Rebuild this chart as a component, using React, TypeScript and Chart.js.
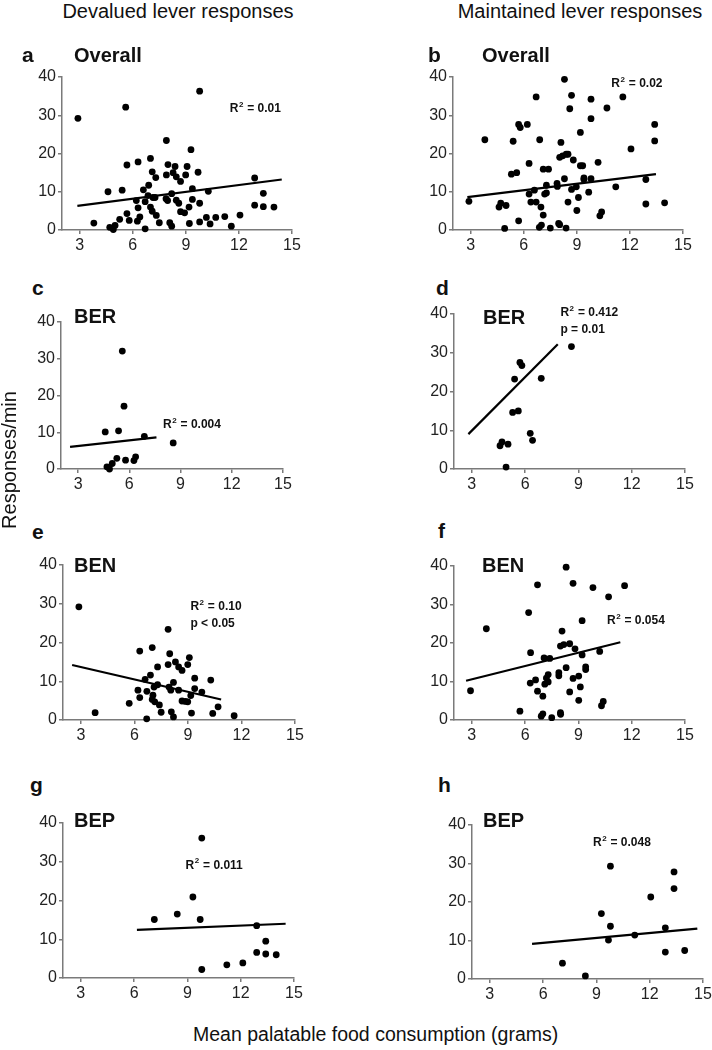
import React, { useEffect, useRef } from 'react';
import { Chart, registerables } from 'chart.js';

Chart.register(...registerables);

// ---------- DATA ----------
const xTickValues = [3, 6, 9, 12, 15];
const yTickValues = [0, 10, 20, 30, 40];

// a: Devalued, Overall
const aX = [2.9, 5.6, 9.78, 3.8, 4.6, 4.7, 4.9, 5.0, 5.26, 5.4, 5.67, 5.67, 5.8, 6.3, 6.2, 6.3, 6.4, 6.26, 6.6, 6.7, 6.7, 7.0, 6.9, 6.86, 7.1, 7.3, 7.14, 7.0, 7.1, 7.33, 7.5, 7.26, 7.9, 7.99, 7.9, 7.88, 7.97, 8.09, 8.2, 8.2, 8.39, 8.28, 8.46, 8.7, 8.46, 8.6, 8.7, 8.93, 9.07, 8.99, 9.29, 9.37, 9.37, 9.18, 9.2, 9.69, 9.78, 9.78, 10.27, 10.16, 10.37, 10.69, 11.2, 11.57, 12.06, 12.89, 12.89, 13.38, 13.38, 13.98];
const aY = [29.2, 32.1, 36.3, 1.8, 10.0, 0.7, 0.1, 1.2, 2.8, 10.4, 17.0, 4.3, 2.5, 17.8, 7.7, 5.8, 3.4, 2.3, 10.5, 7.4, 0.3, 18.7, 11.7, 9.0, 15.2, 13.7, 8.5, 6.0, 4.9, 3.8, 1.9, 8.5, 23.4, 17.1, 14.4, 8.2, 7.7, 1.9, 1.0, 9.5, 16.6, 15.0, 13.9, 12.7, 7.8, 7.0, 4.8, 4.5, 16.6, 14.4, 21.0, 10.8, 8.0, 6.0, 1.7, 15.1, 7.0, 2.1, 10.1, 3.3, 1.6, 3.3, 3.5, 1.0, 3.9, 13.6, 6.5, 9.6, 6.1, 6.0];
const aFitX = [2.87, 14.42];
const aFitY = [6.3, 13.2];

// b: Maintained, Overall
const bX = [2.9, 3.8, 4.6, 4.7, 5.0, 4.92, 5.3, 5.4, 5.6, 5.71, 5.71, 5.8, 6.2, 6.3, 6.3, 6.4, 6.6, 6.7, 6.7, 6.9, 6.97, 6.88, 7.0, 7.1, 7.1, 7.18, 7.28, 7.28, 7.4, 7.5, 7.88, 7.9, 7.97, 8.03, 8.03, 8.1, 8.2, 8.3, 8.4, 8.5, 8.39, 8.3, 8.5, 8.6, 8.7, 8.7, 8.8, 8.97, 9.09, 9.0, 9.2, 9.2, 9.33, 9.4, 9.4, 9.67, 9.8, 9.8, 9.8, 10.2, 10.3, 10.4, 10.7, 11.2, 11.6, 12.06, 12.9, 12.9, 13.4, 13.4, 13.96];
const bY = [7.5, 23.6, 6.0, 7.0, 6.4, 0.4, 14.6, 23.2, 15.0, 2.4, 27.6, 26.8, 27.6, 17.4, 9.4, 7.3, 10.4, 7.3, 34.8, 23.6, 6.0, 0.7, 1.3, 3.9, 15.9, 9.4, 11.7, 9.7, 15.9, 0.5, 12.2, 11.4, 1.7, 19.0, 1.4, 22.9, 19.4, 13.4, 19.8, 19.8, 0.5, 39.4, 7.3, 31.7, 10.6, 35.2, 18.3, 11.3, 8.5, 5.1, 25.5, 16.8, 16.8, 13.6, 13.2, 9.9, 13.4, 29.1, 34.2, 17.7, 3.7, 4.7, 31.9, 11.3, 34.8, 21.2, 13.2, 6.8, 27.6, 23.3, 7.1];
const bFitX = [2.81, 13.47];
const bFitY = [8.6, 14.6];

// c: Devalued, BER
const cX = [4.59, 4.69, 4.84, 5.0, 5.27, 5.37, 5.59, 5.69, 5.78, 6.27, 6.37, 6.88, 8.57];
const cY = [10.1, 0.6, 0.0, 1.5, 2.9, 10.4, 32.1, 17.1, 2.4, 2.3, 3.3, 8.9, 7.1];
const cFitX = [2.53, 7.59];
const cFitY = [6.0, 8.6];

// d: Maintained, BER
const dX = [4.59, 4.7, 5.04, 4.93, 5.3, 5.41, 5.62, 5.71, 5.82, 6.29, 6.42, 6.91, 8.61];
const dY = [6.0, 7.0, 6.4, 0.5, 14.6, 23.2, 15.0, 27.5, 26.7, 9.2, 7.4, 23.4, 31.6];
const dFitX = [2.81, 7.84];
const dFitY = [9.0, 32.2];

// e: Devalued, BEN
const eX = [2.89, 3.8, 5.71, 6.2, 6.3, 6.3, 6.6, 6.7, 6.69, 7.0, 6.9, 7.1, 7.04, 7.0, 7.14, 7.3, 7.3, 7.4, 7.5, 7.89, 7.98, 7.89, 7.94, 8.04, 8.07, 8.19, 8.19, 8.3, 8.48, 8.67, 8.48, 8.67, 8.86, 8.99, 8.99, 9.08, 9.16, 9.2, 9.38, 9.38, 9.78, 10.28, 10.39, 10.69, 11.59];
const eY = [29.2, 1.9, 4.3, 7.7, 5.8, 17.8, 10.5, 7.4, 0.3, 18.7, 11.6, 8.5, 6.4, 5.3, 4.7, 13.7, 9.1, 3.9, 2.0, 23.4, 17.1, 14.3, 8.5, 7.7, 2.1, 0.8, 9.7, 15.0, 13.7, 12.8, 7.7, 4.9, 4.8, 4.7, 14.3, 16.1, 6.3, 1.8, 10.8, 8.1, 7.2, 10.3, 1.7, 3.4, 1.1];
const eFitX = [2.51, 10.86];
const eFitY = [14.2, 5.3];

// f: Maintained, BEN
const fX = [2.93, 3.82, 5.71, 6.2, 6.31, 6.29, 6.59, 6.7, 6.7, 6.91, 7.0, 7.0, 7.07, 7.11, 7.2, 7.3, 7.3, 7.39, 7.5, 7.9, 7.9, 7.99, 7.99, 8.0, 8.08, 8.18, 8.31, 8.31, 8.51, 8.51, 8.7, 8.7, 8.81, 9.02, 9.11, 9.02, 9.21, 9.21, 9.41, 9.41, 9.82, 10.2, 10.3, 10.4, 10.7, 11.6];
const fY = [7.6, 23.7, 2.3, 27.9, 17.5, 9.6, 10.4, 7.5, 35.1, 1.0, 1.6, 6.2, 16.1, 9.3, 10.9, 11.8, 9.9, 16.0, 0.6, 12.3, 11.5, 19.2, 1.9, 1.5, 23.1, 19.6, 13.6, 39.7, 19.8, 7.3, 35.5, 10.8, 18.5, 11.4, 8.6, 5.1, 25.8, 16.9, 13.8, 13.1, 34.4, 17.8, 3.7, 4.8, 32.0, 34.9];
const fFitX = [2.68, 11.36];
const fFitY = [10.2, 20.2];

// g: Devalued, BEP
const gX = [7.14, 8.43, 9.31, 9.72, 9.81, 9.81, 11.22, 12.12, 12.9, 12.9, 13.41, 13.41, 14.0];
const gY = [15.1, 16.5, 20.9, 15.1, 36.1, 2.2, 3.4, 3.9, 13.5, 6.6, 9.5, 6.2, 6.0];
const gFitX = [6.16, 14.53];
const gFitY = [12.4, 14.0];

// h: Maintained, BEP
const hX = [7.09, 8.38, 9.28, 9.68, 9.79, 9.79, 11.16, 12.06, 12.88, 12.88, 13.37, 13.37, 13.97];
const hY = [4.1, 0.8, 17.0, 10.1, 13.7, 29.3, 11.4, 21.3, 13.3, 7.0, 27.8, 23.5, 7.4];
const hFitX = [5.38, 14.68];
const hFitY = [9.1, 13.1];

// ---------- LAYOUT / STYLE ----------
const FONT = '"Liberation Sans", Arial, Helvetica, sans-serif';
const YW = 50; // y-scale width
const XH = 30; // x-scale height
const PT = 14; // top padding
const PR = 12; // right padding

type Note = { x: number; y: number; lines: string[] };
type Panel = {
  key: string;
  letter: string;
  title: string;
  xs: number[];
  ys: number[];
  fitX: number[];
  fitY: number[];
  area: [number, number, number, number];
  letterPos: [number, number];
  titlePos: [number, number];
  note: Note;
};

const panels: Panel[] = [
  { key: 'a', letter: 'a', title: 'Overall', xs: aX, ys: aY, fitX: aFitX, fitY: aFitY, area: [62, 77, 292, 230], letterPos: [22, 62], titlePos: [74, 62], note: { x: 11.48, y: 31.7, lines: ['R² = 0.01'] } },
  { key: 'b', letter: 'b', title: 'Overall', xs: bX, ys: bY, fitX: bFitX, fitY: bFitY, area: [453, 77, 683, 230], letterPos: [428, 62], titlePos: [482, 62], note: { x: 10.95, y: 38.3, lines: ['R² = 0.02'] } },
  { key: 'c', letter: 'c', title: 'BER', xs: cX, ys: cY, fitX: cFitX, fitY: cFitY, area: [61, 322, 283, 469], letterPos: [32, 295], titlePos: [74, 323], note: { x: 7.98, y: 12.1, lines: ['R² = 0.004'] } },
  { key: 'd', letter: 'd', title: 'BER', xs: dX, ys: dY, fitX: dFitX, fitY: dFitY, area: [454, 314, 685, 469], letterPos: [436, 295], titlePos: [483, 324], note: { x: 7.99, y: 40.4, lines: ['R² = 0.412', 'p = 0.01'] } },
  { key: 'e', letter: 'e', title: 'BEN', xs: eX, ys: eY, fitX: eFitX, fitY: eFitY, area: [63, 565, 295, 720], letterPos: [32, 539], titlePos: [74, 572], note: { x: 9.14, y: 29.2, lines: ['R² = 0.10', 'p < 0.05'] } },
  { key: 'f', letter: 'f', title: 'BEN', xs: fX, ys: fY, fitX: fFitX, fitY: fFitY, area: [454, 566, 685, 720], letterPos: [438, 538], titlePos: [482, 572], note: { x: 10.61, y: 25.7, lines: ['R² = 0.054'] } },
  { key: 'g', letter: 'g', title: 'BEP', xs: gX, ys: gY, fitX: gFitX, fitY: gFitY, area: [63, 823, 294, 978], letterPos: [30, 792], titlePos: [74, 827], note: { x: 8.9, y: 29.1, lines: ['R² = 0.011'] } },
  { key: 'h', letter: 'h', title: 'BEP', xs: hX, ys: hY, fitX: hFitX, fitY: hFitY, area: [472, 825, 703, 979], letterPos: [438, 792], titlePos: [483, 827], note: { x: 8.81, y: 35.4, lines: ['R² = 0.048'] } },
];

const AXIS_COLOR = '#7a7a7a';
const TICK_COLOR = '#222';

function PanelChart({ panel }: { panel: Panel }) {
  const ref = useRef<HTMLCanvasElement | null>(null);
  const [l, t, r, b] = panel.area;
  const cw = r - l + YW + PR;
  const ch = b - t + PT + XH;

  useEffect(() => {
    if (!ref.current) return;
    const notePlugin = {
      id: 'r2Note',
      afterDatasetsDraw(chart: any) {
        const ctx = chart.ctx;
        const sx = chart.scales.x;
        const sy = chart.scales.y;
        const px = sx.getPixelForValue(panel.note.x);
        const py = sy.getPixelForValue(panel.note.y);
        ctx.save();
        ctx.fillStyle = '#111';
        ctx.textBaseline = 'middle';
        ctx.textAlign = 'left';
        panel.note.lines.forEach((line, i) => {
          const y = py + i * 17;
          let x = px;
          const parts = line.split('²');
          parts.forEach((part, j) => {
            if (j > 0) {
              ctx.font = `bold 8px ${FONT}`;
              ctx.fillText('2', x + 0.5, y - 4);
              x += ctx.measureText('2').width + 1;
            }
            ctx.font = `bold 12px ${FONT}`;
            ctx.fillText(part, x, y);
            x += ctx.measureText(part).width;
          });
        });
        ctx.restore();
      },
    };

    const gridOpts = {
      display: true,
      drawOnChartArea: false,
      drawTicks: true,
      tickLength: 4,
      color: AXIS_COLOR,
      lineWidth: 1.5,
    };
    const borderOpts = { display: true, color: AXIS_COLOR, width: 1.5 };
    const tickFont = { family: FONT, size: 16 };

    const chart = new Chart(ref.current, {
      type: 'scatter',
      data: {
        datasets: [
          {
            type: 'scatter',
            data: panel.xs.map((x, i) => ({ x, y: panel.ys[i] })),
            pointRadius: 3.4,
            pointBackgroundColor: '#000',
            pointBorderColor: '#000',
            pointBorderWidth: 0,
            clip: false,
          } as any,
          {
            type: 'line',
            data: panel.fitX.map((x, i) => ({ x, y: panel.fitY[i] })),
            borderColor: '#000',
            borderWidth: 2.2,
            pointRadius: 0,
            fill: false,
            tension: 0,
            clip: false,
          } as any,
        ],
      },
      options: {
        responsive: false,
        animation: false,
        events: [],
        layout: { padding: { left: 0, top: PT, right: PR, bottom: 0 } },
        plugins: {
          legend: { display: false },
          tooltip: { enabled: false },
          title: { display: false },
        },
        scales: {
          x: {
            type: 'linear',
            min: 2,
            max: 15,
            afterBuildTicks: (s: any) => {
              s.ticks = xTickValues.map((v) => ({ value: v }));
            },
            afterFit: (s: any) => {
              s.height = XH;
            },
            grid: gridOpts,
            border: borderOpts,
            ticks: { font: tickFont, color: TICK_COLOR, padding: 2, maxRotation: 0 },
          },
          y: {
            type: 'linear',
            min: 0,
            max: 40,
            afterBuildTicks: (s: any) => {
              s.ticks = yTickValues.map((v) => ({ value: v }));
            },
            afterFit: (s: any) => {
              s.width = YW;
            },
            grid: gridOpts,
            border: borderOpts,
            ticks: { font: tickFont, color: TICK_COLOR, padding: 2 },
          },
        },
      } as any,
      plugins: [notePlugin],
    });
    return () => chart.destroy();
  }, [panel]);

  return (
    <canvas
      ref={ref}
      width={cw}
      height={ch}
      style={{ position: 'absolute', left: l - YW, top: t - PT, width: cw, height: ch }}
    />
  );
}

function Text({
  text,
  left,
  baseline,
  size,
  bold,
  center,
}: {
  text: string;
  left: number;
  baseline: number;
  size: number;
  bold?: boolean;
  center?: boolean;
}) {
  return (
    <div
      style={{
        position: 'absolute',
        left,
        top: baseline - 0.8465 * size,
        fontFamily: FONT,
        fontSize: size,
        fontWeight: bold ? 700 : 400,
        lineHeight: 1,
        whiteSpace: 'nowrap',
        color: '#111',
        transform: center ? 'translateX(-50%)' : undefined,
      }}
    >
      {text}
    </div>
  );
}

export default function App() {
  return (
    <div
      style={{
        position: 'absolute',
        left: 0,
        top: 0,
        width: 712,
        height: 1050,
        overflow: 'hidden',
        background: '#fff',
      }}
    >
      <Text text="Devalued lever responses" left={178} baseline={18} size={20} center />
      <Text text="Maintained lever responses" left={580} baseline={18} size={20} center />
      {panels.map((p) => (
        <PanelChart key={p.key} panel={p} />
      ))}
      {panels.map((p) => (
        <React.Fragment key={p.key + '-t'}>
          <Text text={p.letter} left={p.letterPos[0]} baseline={p.letterPos[1]} size={21} bold />
          <Text text={p.title} left={p.titlePos[0]} baseline={p.titlePos[1]} size={20} bold />
        </React.Fragment>
      ))}
      <div
        style={{
          position: 'absolute',
          left: 9 - 100,
          top: 460 - 10,
          width: 200,
          height: 20,
          lineHeight: '20px',
          textAlign: 'center',
          fontFamily: FONT,
          fontSize: 20,
          color: '#111',
          whiteSpace: 'nowrap',
          transform: 'rotate(-90deg)',
        }}
      >
        Responses/min
      </div>
      <Text text="Mean palatable food consumption (grams)" left={193} baseline={1042} size={19.5} />
    </div>
  );
}
